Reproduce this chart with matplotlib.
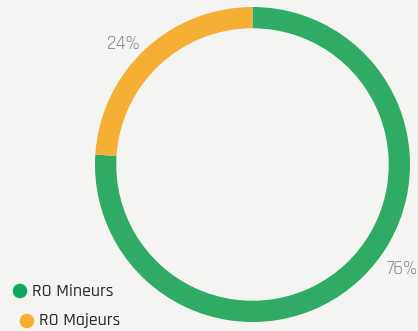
import numpy as np
import matplotlib.pyplot as plt

# data
labels = ['RO Mineurs', 'RO Majeurs']
values = [76, 24]
colors = ['#2fab66', '#f5af35']
marker_colors = ['#10a95e', '#f7b02e']

plt.rcParams['font.family'] = ['Rajdhani', 'DejaVu Sans']

fig = plt.figure(figsize=(4.18, 3.31), dpi=100)
fig.patch.set_facecolor('#f4f4f3')

# donut
ax = fig.add_axes([95/418, 9/331, 315/418, 315/331])
ax.set_facecolor('none')
wedges, _ = ax.pie(values, colors=colors, startangle=90, counterclock=False,
                   radius=1, wedgeprops=dict(width=0.135, edgecolor='none'))
ax.set_xlim(-1, 1)
ax.set_ylim(-1, 1)
ax.set_aspect('equal')

# percentage labels
label_pos = [(0.95, -0.66), (-0.82, 0.77)]
for v, (x, y) in zip(values, label_pos):
    ax.text(x, y, f'{v}%', color='#8a8a8a', fontsize=14, fontweight='normal',
            ha='center', va='center')

# legend
lax = fig.add_axes([0, 0, 1, 1])
lax.set_xlim(0, 418)
lax.set_ylim(331, 0)
lax.axis('off')
lax.patch.set_alpha(0)
leg_pos = [(20, 291), (27, 321)]
for lab, c, (x, y) in zip(labels, marker_colors, leg_pos):
    lax.scatter([x], [y], s=110, color=c, edgecolors='none')
    lax.text(x + 12, y, lab, color='#2a2a2a', fontsize=13, fontweight='medium',
             va='center', ha='left')

fig.savefig('out.png', dpi=100, facecolor=fig.get_facecolor())
